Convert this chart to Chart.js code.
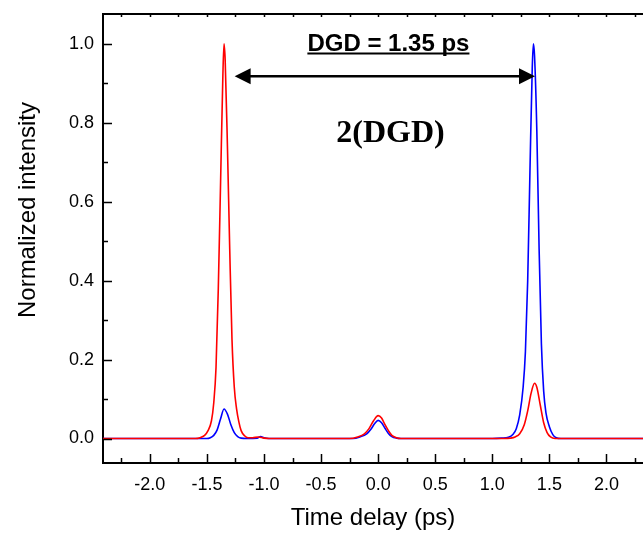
<!DOCTYPE html>
<html>
<head>
<meta charset="utf-8">
<script src="https://cdn.jsdelivr.net/npm/chart.js@4.4.1/dist/chart.umd.min.js"></script>
<style>
  html, body { margin: 0; padding: 0; background: #fff; }
  canvas { display: block; }
</style>
</head>
<body>
<canvas id="chartPulse" width="643" height="534"></canvas>
<script>
// nilai: waktu tunda (ps) dan intensitas ternormalisasi
const redX = [-2.41, -1.60, -1.56, -1.52, -1.49, -1.46, -1.44, -1.42, -1.40, -1.38, -1.36, -1.35, -1.34, -1.32, -1.30, -1.28, -1.26, -1.24, -1.22, -1.20, -1.17, -1.14, -1.10, -1.05, -1.00, -0.95,
  -0.25, -0.18, -0.12, -0.08, -0.04, 0.00, 0.03, 0.06, 0.09, 0.12, 0.16, 0.20,
  1.10, 1.16, 1.20, 1.24, 1.28, 1.31, 1.34, 1.37, 1.39, 1.42, 1.45, 1.48, 1.51, 1.55, 2.32];
const redY = [0, 0, 0.002, 0.008, 0.02, 0.045, 0.09, 0.18, 0.38, 0.65, 0.92, 1.0, 0.96, 0.74, 0.48, 0.25, 0.13, 0.075, 0.042, 0.02, 0.007, 0.002, 0.002, 0.004, 0.001, 0,
  0, 0.004, 0.012, 0.025, 0.045, 0.058, 0.052, 0.035, 0.02, 0.008, 0.002, 0,
  0, 0.001, 0.004, 0.012, 0.035, 0.07, 0.115, 0.14, 0.13, 0.085, 0.04, 0.015, 0.004, 0, 0];

const blueX = [-2.41, -1.50, -1.47, -1.44, -1.41, -1.38, -1.35, -1.32, -1.29, -1.26, -1.23, -1.20, -1.15, -1.06, -1.03, -1.00, -0.96,
  -0.22, -0.16, -0.10, -0.06, -0.03, 0.00, 0.03, 0.06, 0.09, 0.12, 0.16, 0.20,
  1.00, 1.08, 1.14, 1.18, 1.21, 1.24, 1.27, 1.29, 1.31, 1.33, 1.35, 1.36, 1.37, 1.39, 1.41, 1.43, 1.45, 1.47, 1.50, 1.53, 1.56, 1.60, 2.32];
const blueY = [0, 0, 0.002, 0.008, 0.022, 0.05, 0.075, 0.062, 0.035, 0.015, 0.005, 0.001, 0, 0.001, 0.005, 0.002, 0,
  0, 0.004, 0.012, 0.025, 0.038, 0.046, 0.04, 0.026, 0.013, 0.005, 0.001, 0,
  0, 0.001, 0.003, 0.01, 0.025, 0.06, 0.13, 0.22, 0.4, 0.68, 0.94, 1.0, 0.97, 0.78, 0.48, 0.24, 0.12, 0.065, 0.03, 0.01, 0.002, 0, 0];

const xTicks = [-2.0, -1.5, -1.0, -0.5, 0.0, 0.5, 1.0, 1.5, 2.0];
const yTicks = [0.0, 0.2, 0.4, 0.6, 0.8, 1.0];

// panah 2(DGD) dan label
const arrowX = [-1.257, 1.374];
const arrowY = 0.918;
const labelDGD = 'DGD = 1.35 ps';
const labelDGDPos = [0.09, 0.983];
const label2DGD = '2(DGD)';
const label2DGDPos = [0.108, 0.751];

const toPts = (xs, ys) => xs.map((x, i) => ({ x, y: ys[i] }));

// garis tick ke dalam, bingkai atas, panah dan teks
const decorPlugin = {
  id: 'decor',
  afterDraw(chart) {
    const { ctx, chartArea: a, scales: { x, y } } = chart;
    ctx.save();
    ctx.strokeStyle = '#000';
    ctx.lineWidth = 2;
    ctx.beginPath();
    ctx.moveTo(a.left, a.top);
    ctx.lineTo(a.right, a.top);
    ctx.stroke();

    ctx.lineWidth = 1.5;
    ctx.beginPath();
    const xs = [xTicks[0] - 0.25, ...xTicks.flatMap(v => [v, v + 0.25])];
    xs.forEach(v => {
      const px = Math.round(x.getPixelForValue(v)) + 0.5;
      if (px < a.left || px > a.right) return;
      const major = xTicks.includes(v);
      ctx.moveTo(px, a.bottom);
      ctx.lineTo(px, a.bottom - (major ? 9 : 5));
      ctx.moveTo(px, a.top);
      ctx.lineTo(px, a.top + 3);
    });
    const ys = yTicks.flatMap(v => [v, v + 0.1]);
    ys.forEach(v => {
      const py = Math.round(y.getPixelForValue(v)) + 0.5;
      if (py < a.top || py > a.bottom) return;
      const major = yTicks.some(t => Math.abs(t - v) < 1e-6);
      ctx.moveTo(a.left, py);
      ctx.lineTo(a.left + (major ? 9 : 5), py);
    });
    ctx.stroke();

    // panah
    const x1 = x.getPixelForValue(arrowX[0]);
    const x2 = x.getPixelForValue(arrowX[1]);
    const ay = y.getPixelForValue(arrowY);
    ctx.lineWidth = 2.5;
    ctx.beginPath();
    ctx.moveTo(x1 + 10, ay);
    ctx.lineTo(x2 - 10, ay);
    ctx.stroke();
    ctx.fillStyle = '#000';
    ctx.beginPath();
    ctx.moveTo(x1, ay);
    ctx.lineTo(x1 + 16, ay - 8);
    ctx.lineTo(x1 + 16, ay + 8);
    ctx.closePath();
    ctx.moveTo(x2, ay);
    ctx.lineTo(x2 - 16, ay - 8);
    ctx.lineTo(x2 - 16, ay + 8);
    ctx.closePath();
    ctx.fill();

    // teks
    ctx.textAlign = 'center';
    ctx.textBaseline = 'alphabetic';
    ctx.font = 'bold 24px "Liberation Sans", Arial, sans-serif';
    const dx = x.getPixelForValue(labelDGDPos[0]);
    const dy = y.getPixelForValue(labelDGDPos[1]);
    ctx.fillText(labelDGD, dx, dy);
    const w = ctx.measureText(labelDGD).width;
    ctx.lineWidth = 2;
    ctx.beginPath();
    ctx.moveTo(dx - w / 2, dy + 3);
    ctx.lineTo(dx + w / 2, dy + 3);
    ctx.stroke();

    ctx.font = 'bold 32px "Liberation Serif", "Times New Roman", serif';
    ctx.fillText(label2DGD, x.getPixelForValue(label2DGDPos[0]), y.getPixelForValue(label2DGDPos[1]));

    // judul sumbu y
    ctx.save();
    ctx.translate(28, 210);
    ctx.rotate(-Math.PI / 2);
    ctx.textBaseline = 'middle';
    ctx.font = '24px "Liberation Sans", Arial, sans-serif';
    ctx.fillText('Normalized intensity', 0, 0);
    ctx.restore();
    ctx.restore();
  }
};

const ctx = document.getElementById('chartPulse').getContext('2d');
new Chart(ctx, {
  type: 'line',
  data: {
    datasets: [
      {
        label: 'red',
        data: toPts(redX, redY),
        borderColor: '#ff0000',
        borderWidth: 1.6,
        pointRadius: 0,
        cubicInterpolationMode: 'monotone',
        fill: false
      },
      {
        label: 'blue',
        data: toPts(blueX, blueY),
        borderColor: '#0000ff',
        borderWidth: 1.6,
        pointRadius: 0,
        cubicInterpolationMode: 'monotone',
        fill: false
      }
    ]
  },
  options: {
    responsive: false,
    animation: false,
    devicePixelRatio: 1,
    layout: { padding: { top: 14, right: 0, bottom: 0, left: 0 } },
    plugins: { legend: { display: false }, tooltip: { enabled: false } },
    scales: {
      x: {
        type: 'linear',
        min: -2.41,
        max: 2.32,
        afterBuildTicks: s => { s.ticks = xTicks.map(v => ({ value: v })); },
        afterFit: s => { s.height = 71; s.paddingLeft = 0; s.paddingRight = 0; },
        grid: { display: false, drawTicks: false },
        border: { display: true, color: '#000', width: 2 },
        ticks: {
          padding: 11,
          color: '#000',
          font: { family: '"Liberation Sans", Arial, sans-serif', size: 18 },
          maxRotation: 0,
          callback: v => v.toFixed(1)
        },
        title: {
          display: true,
          text: 'Time delay (ps)',
          color: '#000',
          font: { family: '"Liberation Sans", Arial, sans-serif', size: 24 },
          padding: { top: 0, bottom: 1 }
        }
      },
      y: {
        type: 'linear',
        min: -0.062,
        max: 1.0756,
        afterBuildTicks: s => { s.ticks = yTicks.map(v => ({ value: v })); },
        afterFit: s => { s.width = 103; s.paddingTop = 0; s.paddingBottom = 0; },
        grid: { display: false, drawTicks: false },
        border: { display: true, color: '#000', width: 2 },
        ticks: {
          padding: 9,
          color: '#000',
          font: { family: '"Liberation Sans", Arial, sans-serif', size: 18 },
          callback: v => v.toFixed(1)
        }
      }
    }
  },
  plugins: [decorPlugin]
});
</script>
</body>
</html>
